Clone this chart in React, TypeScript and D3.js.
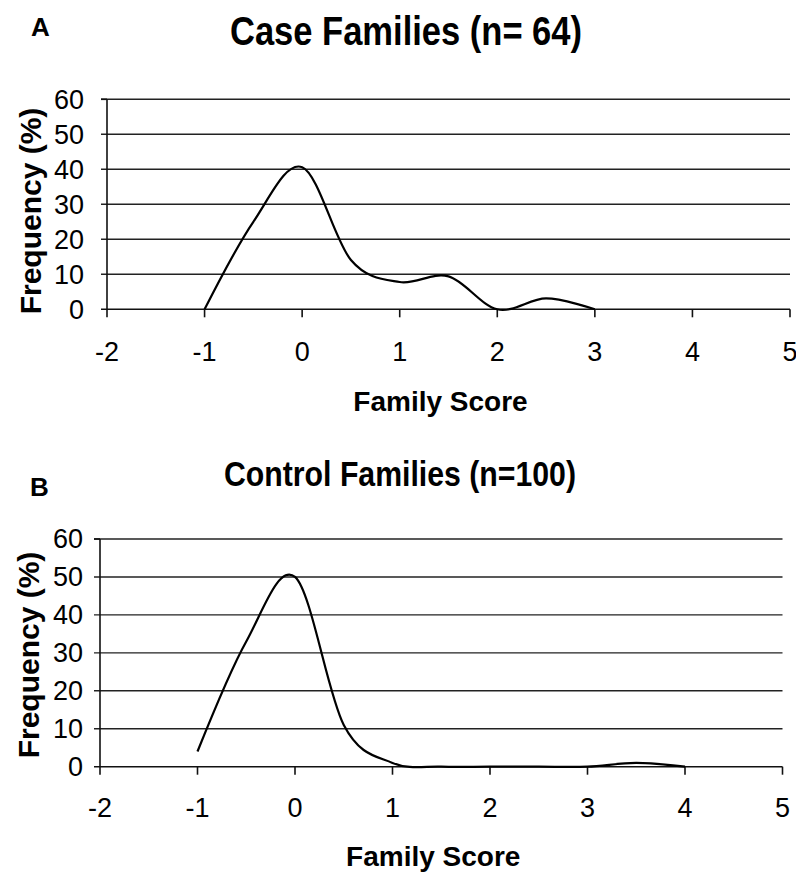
import React from "react";
import * as d3 from "d3";

// ---- Data ----
const scoreTicks = [-2, -1, 0, 1, 2, 3, 4, 5];
const freqTicks = [0, 10, 20, 30, 40, 50, 60];

const caseScores = [-1, -0.5, 0, 0.5, 1, 1.5, 2, 2.5, 3];
const caseFreq = [0, 25, 40.6, 14.1, 7.8, 9.4, 0, 3.1, 0];

const controlScores = [-1, -0.5, 0, 0.5, 1, 1.5, 2, 2.5, 3, 3.5, 4];
const controlFreq = [4, 33, 50, 11, 1, 0, 0, 0, 0, 1, 0];

const panelLetters = ["A", "B"];
const panelTitles = ["Case Families (n= 64)", "Control Families (n=100)"];
const xLabel = "Family Score";
const yLabel = "Frequency (%)";

const FONT = "'Liberation Sans', Arial, sans-serif";

type PanelProps = {
  letter: string;
  title: string;
  scores: number[];
  freq: number[];
  x0: number;
  x1: number;
  yBottom: number;
  yTop: number;
  letterX: number;
  letterY: number;
  titleX: number;
  titleY: number;
  titleSize: number;
  titleLen: number;
  tickLabelY: number;
  xLabelY: number;
  yLabelX: number;
  yLabelCY: number;
  yTickRight: number;
};

function Panel(p: PanelProps) {
  const x = d3.scaleLinear().domain([-2, 5]).range([p.x0, p.x1]);
  const y = d3.scaleLinear().domain([0, 60]).range([p.yBottom, p.yTop]);
  const pts: [number, number][] = p.scores.map((s, i) => [s, p.freq[i]]);
  const line = d3
    .line<[number, number]>()
    .x((d) => x(d[0]))
    .y((d) => y(d[1]))
    .curve(d3.curveCardinal.tension(0));
  return (
    <g>
      <text x={p.letterX} y={p.letterY} fontFamily={FONT} fontWeight="bold" fontSize={26}>
        {p.letter}
      </text>
      <text
        x={p.titleX}
        y={p.titleY}
        fontFamily={FONT}
        fontWeight="bold"
        fontSize={p.titleSize}
        textAnchor="middle"
        textLength={p.titleLen}
        lengthAdjust="spacingAndGlyphs"
      >
        {p.title}
      </text>
      {/* gridlines */}
      {freqTicks.filter((t) => t > 0).map((t) => (
        <line key={t} x1={x(-2) - 6} x2={x(5)} y1={y(t)} y2={y(t)} stroke="#222" strokeWidth={1.4} />
      ))}
      {/* x axis */}
      <line x1={x(-2) - 6} x2={x(5)} y1={y(0)} y2={y(0)} stroke="#111" strokeWidth={1.6} />
      {scoreTicks.map((t) => (
        <line key={t} x1={x(t)} x2={x(t)} y1={y(0)} y2={y(0) + 8} stroke="#111" strokeWidth={1.6} />
      ))}
      {/* y axis */}
      <line x1={x(-2)} x2={x(-2)} y1={y(60)} y2={y(0)} stroke="#111" strokeWidth={1.6} />
      <line x1={x(-2) - 6} x2={x(-2)} y1={y(60)} y2={y(60)} stroke="#111" strokeWidth={1.6} />
      {freqTicks.map((t) => (
        <text
          key={t}
          x={p.yTickRight}
          y={y(t)}
          dy="0.35em"
          textAnchor="end"
          fontFamily={FONT}
          fontSize={27}
        >
          {t}
        </text>
      ))}
      {scoreTicks.map((t) => (
        <text key={t} x={x(t)} y={p.tickLabelY} textAnchor="middle" fontFamily={FONT} fontSize={27}>
          {t}
        </text>
      ))}
      <text
        x={x(1.5) - 8}
        y={p.xLabelY}
        textAnchor="middle"
        fontFamily={FONT}
        fontWeight="bold"
        fontSize={28}
      >
        {xLabel}
      </text>
      <text
        transform={`translate(${p.yLabelX},${p.yLabelCY}) rotate(-90)`}
        textAnchor="middle"
        fontFamily={FONT}
        fontWeight="bold"
        fontSize={30}
      >
        {yLabel}
      </text>
      <path d={line(pts) || ""} fill="none" stroke="#000" strokeWidth={2.2} />
    </g>
  );
}

export default function App() {
  return (
    <svg
      width={796}
      height={873}
      style={{ position: "absolute", left: 0, top: 0, background: "#fff" }}
    >
      <rect width={796} height={873} fill="#fff" />
      <Panel
        letter={panelLetters[0]}
        title={panelTitles[0]}
        scores={caseScores}
        freq={caseFreq}
        x0={107}
        x1={790}
        yBottom={309.3}
        yTop={99.3}
        letterX={31}
        letterY={36}
        titleX={406}
        titleY={45}
        titleSize={40}
        titleLen={352}
        tickLabelY={361}
        xLabelY={411}
        yLabelX={41}
        yLabelCY={211}
        yTickRight={84}
      />
      <Panel
        letter={panelLetters[1]}
        title={panelTitles[1]}
        scores={controlScores}
        freq={controlFreq}
        x0={100}
        x1={782.5}
        yBottom={766.7}
        yTop={539}
        letterX={30}
        letterY={496}
        titleX={400}
        titleY={486}
        titleSize={35}
        titleLen={352}
        tickLabelY={817}
        xLabelY={866}
        yLabelX={39}
        yLabelCY={655}
        yTickRight={83}
      />
    </svg>
  );
}
